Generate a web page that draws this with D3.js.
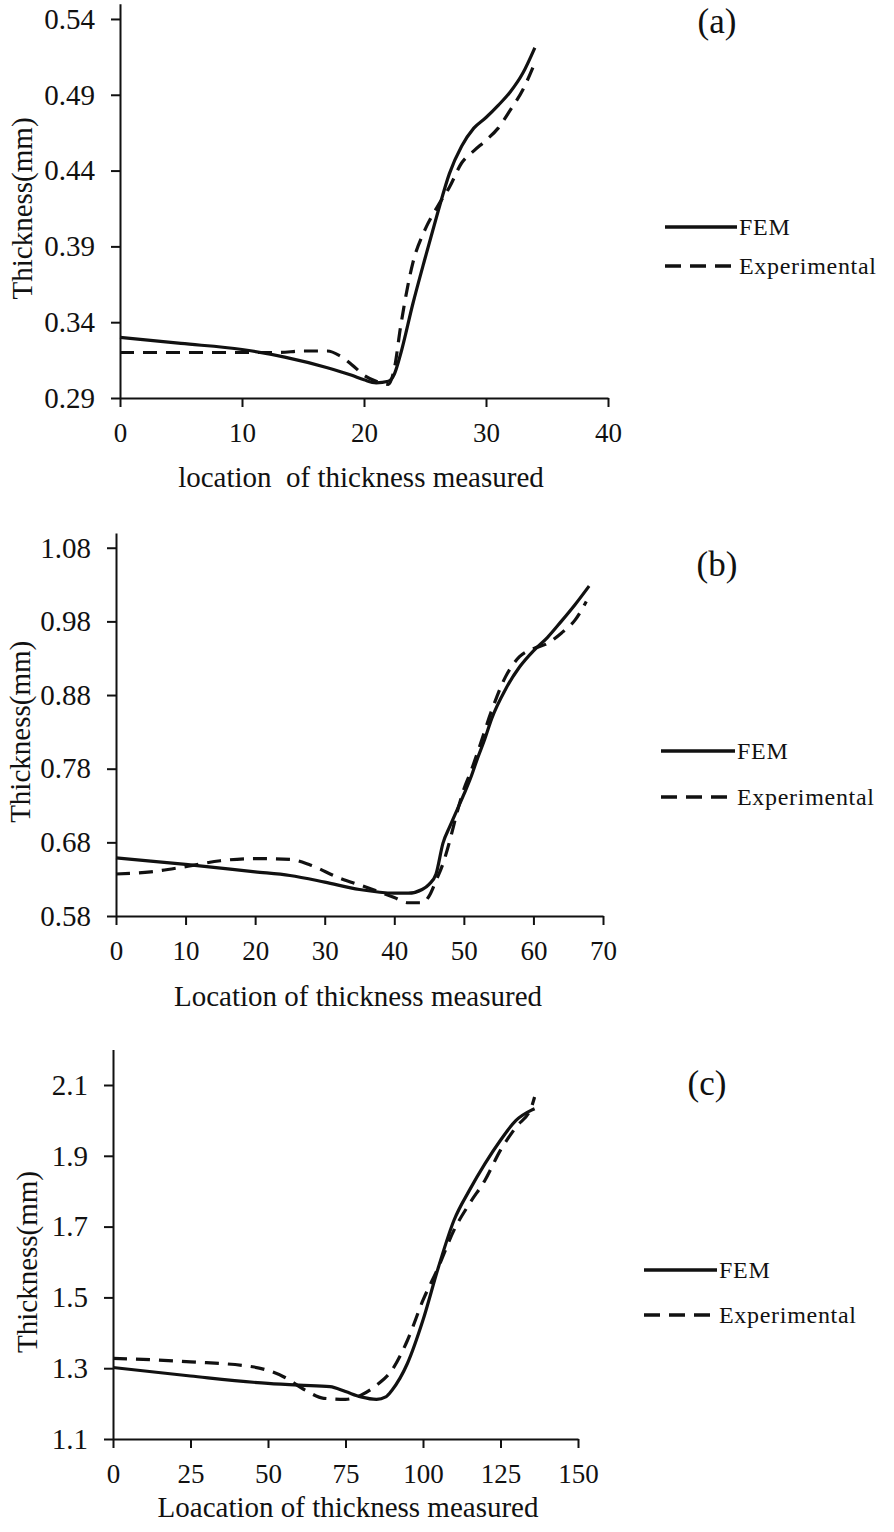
<!DOCTYPE html>
<html><head><meta charset="utf-8">
<script src="https://cdn.jsdelivr.net/npm/d3@7"></script>
<style>
html,body{margin:0;padding:0;background:#fff;}
svg text{font-family:"Liberation Serif","Times New Roman",serif;fill:#111;}
</style></head>
<body>
<svg id="chart" width="894" height="1532"></svg>
<script>
// ---------- Panel (a) ----------
const aFemX = [0,5,10,13.5,17,19,20,21,22,22.5,23,24,25,26,27,28,29,30,31,32,33,34];
const aFemY = [0.330,0.326,0.322,0.317,0.310,0.305,0.302,0.300,0.301,0.306,0.319,0.352,0.382,0.411,0.438,0.456,0.468,0.475,0.483,0.492,0.504,0.521];
const aExpX = [0,5,10,13,15,17,18,19,20,21,22,22.5,23,24,25,26,27,28,29,30,31,32,33,34];
const aExpY = [0.320,0.320,0.320,0.320,0.321,0.321,0.318,0.312,0.305,0.301,0.299,0.310,0.337,0.379,0.401,0.416,0.429,0.445,0.453,0.460,0.468,0.480,0.493,0.511];
const aXTicks = [0,10,20,30,40];
const aYTicks = [0.29,0.34,0.39,0.44,0.49,0.54];

// ---------- Panel (b) ----------
const bFemX = [0,10,20,25,30,35,40,42,44,45,46,47,48,50,51,52,53,54,56,58,60,62,64,66,68];
const bFemY = [0.659,0.650,0.640,0.635,0.626,0.616,0.611,0.611,0.616,0.623,0.637,0.679,0.702,0.745,0.768,0.795,0.82,0.848,0.888,0.918,0.940,0.958,0.980,1.003,1.028];
const bExpX = [0,5,10,15,20,25,28,32,36,40,42,44,45,46,47,48,49,50,51,52,54,56,58,60,62,64,66,67.6];
const bExpY = [0.637,0.640,0.647,0.655,0.658,0.657,0.649,0.632,0.619,0.605,0.598,0.598,0.607,0.628,0.651,0.683,0.720,0.752,0.776,0.803,0.859,0.905,0.932,0.943,0.950,0.964,0.982,1.007];
const bXTicks = [0,10,20,30,40,50,60,70];
const bYTicks = [0.58,0.68,0.78,0.88,0.98,1.08];

// ---------- Panel (c) ----------
const cFemX = [0,25,50,60,70,75,80,85,88,90,95,100,105,110,115,120,125,130,135,136];
const cFemY = [1.302,1.278,1.257,1.252,1.248,1.234,1.219,1.212,1.219,1.238,1.314,1.436,1.586,1.718,1.803,1.878,1.944,2.000,2.029,2.033];
const cExpX = [0,25,45,55,62,68,75,80,85,90,95,100,105,110,115,120,125,130,135,136];
const cExpY = [1.328,1.318,1.304,1.276,1.238,1.215,1.212,1.224,1.252,1.295,1.379,1.492,1.586,1.690,1.765,1.831,1.916,1.981,2.038,2.066];
const cXTicks = [0,25,50,75,100,125,150];
const cYTicks = [1.1,1.3,1.5,1.7,1.9,2.1];

const seriesNames = ["FEM","Experimental"];

const panels = [
  {label:"(a)", femX:aFemX, femY:aFemY, expX:aExpX, expY:aExpY, xTicks:aXTicks, yTicks:aYTicks,
   xDom:[0,40], yDom:[0.29,0.55], fmt:d3.format(".2f"),
   xTitle:"location  of thickness measured"},
  {label:"(b)", femX:bFemX, femY:bFemY, expX:bExpX, expY:bExpY, xTicks:bXTicks, yTicks:bYTicks,
   xDom:[0,70], yDom:[0.58,1.10], fmt:d3.format(".2f"),
   xTitle:"Location of thickness measured"},
  {label:"(c)", femX:cFemX, femY:cFemY, expX:cExpX, expY:cExpY, xTicks:cXTicks, yTicks:cYTicks,
   xDom:[0,150], yDom:[1.1,2.2], fmt:d3.format(".1f"),
   xTitle:"Loacation of thickness measured"}
];

// layout (positions/sizes)
const layout = [
  {x0:120, x1:608, y0:398, y1:3.8, yTitleX:22, xTitleX:361, xTitleY:487, labX:717, labY:33,
   legX0:665, legX1:737, legY1:227, legY2:266},
  {x0:116, x1:603, y0:916, y1:533, yTitleX:20, xTitleX:358, xTitleY:1006, labX:717, labY:576,
   legX0:661, legX1:735, legY1:751, legY2:797},
  {x0:113, x1:578, y0:1439, y1:1049.6, yTitleX:27, xTitleX:348, xTitleY:1517, labX:707, labY:1095,
   legX0:644, legX1:717, legY1:1270, legY2:1315}
];

const svg = d3.select("#chart");
const DASH = "14,9";

panels.forEach((p,i)=>{
  const L = layout[i];
  const x = d3.scaleLinear().domain(p.xDom).range([L.x0, L.x1]);
  const y = d3.scaleLinear().domain(p.yDom).range([L.y0, L.y1]);
  const g = svg.append("g");

  const xa = g.append("g").attr("transform",`translate(0,${L.y0})`)
    .call(d3.axisBottom(x).tickValues(p.xTicks).tickFormat(d3.format("d")).tickSize(9).tickSizeOuter(0).tickPadding(16));
  const ya = g.append("g").attr("transform",`translate(${L.x0},0)`)
    .call(d3.axisLeft(y).tickValues(p.yTicks).tickFormat(p.fmt).tickSize(9).tickSizeOuter(0).tickPadding(16));
  [xa,ya].forEach(a=>{
    a.selectAll("path").attr("stroke","#111").attr("stroke-width",2);
    a.selectAll("line").attr("stroke","#111").attr("stroke-width",2);
  });
  xa.selectAll("text").attr("font-size",27).attr("fill","#222").style("font-family","Liberation Serif");
  ya.selectAll("text").attr("font-size",29).attr("fill","#222").style("font-family","Liberation Serif");

  g.append("text")
    .attr("transform",`translate(${L.yTitleX},${(L.y0+y(p.yTicks[p.yTicks.length-1]))/2}) rotate(-90)`)
    .attr("text-anchor","middle").attr("dominant-baseline","central")
    .attr("font-size",29).text("Thickness(mm)");
  g.append("text").attr("x",L.xTitleX).attr("y",L.xTitleY)
    .attr("text-anchor","middle").attr("font-size",29).attr("xml:space","preserve")
    .style("white-space","pre").text(p.xTitle);
  g.append("text").attr("x",L.labX).attr("y",L.labY).attr("text-anchor","middle")
    .attr("font-size",35).text(p.label);

  const line = d3.line().x(d=>x(d[0])).y(d=>y(d[1])).curve(d3.curveMonotoneX);
  const fem = p.femX.map((v,k)=>[v,p.femY[k]]);
  const exp = p.expX.map((v,k)=>[v,p.expY[k]]);
  g.append("path").datum(exp).attr("d",line).attr("fill","none")
    .attr("stroke","#111").attr("stroke-width",3.2).attr("stroke-dasharray",DASH);
  g.append("path").datum(fem).attr("d",line).attr("fill","none")
    .attr("stroke","#111").attr("stroke-width",3.2);

  const leg = g.append("g");
  [[L.legY1,null,seriesNames[0]],[L.legY2,DASH,seriesNames[1]]].forEach(([ly,dash,name])=>{
    leg.append("line").attr("x1",L.legX0).attr("x2",L.legX1).attr("y1",ly).attr("y2",ly)
      .attr("stroke","#111").attr("stroke-width",3.5).attr("stroke-dasharray",dash? "16,9":null);
    leg.append("text").attr("x",L.legX1+2).attr("y",ly+8).attr("font-size",24)
      .attr("letter-spacing",0.7).text(name);
  });
});
</script>
</body></html>
